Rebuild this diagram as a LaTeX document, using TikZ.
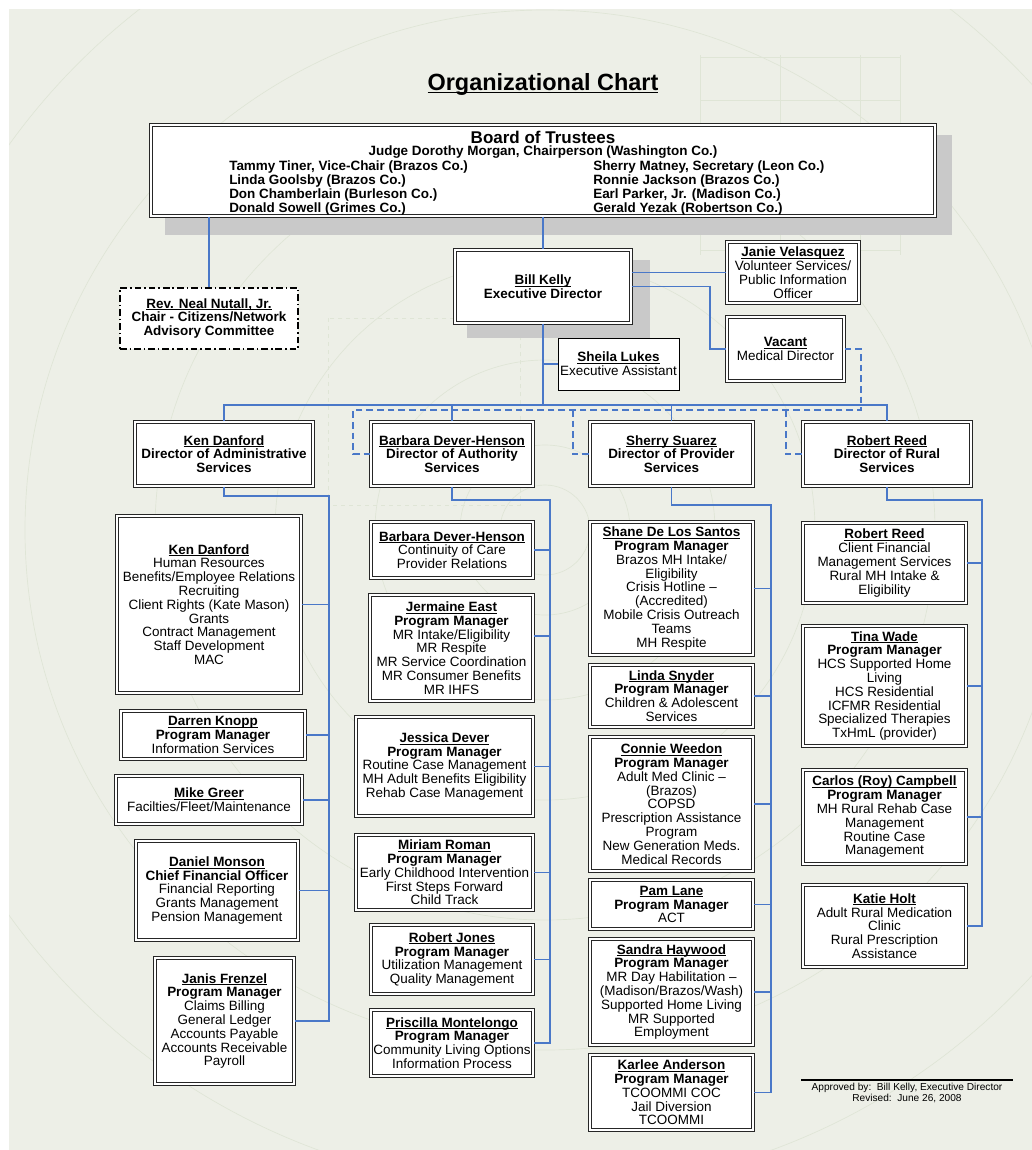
\documentclass[tikz,border=0pt]{standalone}
\usepackage{fontspec}
\setmainfont{Liberation Sans}
\usetikzlibrary{calc}
\definecolor{bg}{HTML}{EDEFE7}
\definecolor{conn}{HTML}{4A78C8}
\definecolor{shadowc}{HTML}{C9C9C9}
\definecolor{deco}{HTML}{DFE5D6}
\newcommand\bodyfont{\fontsize{10.1pt}{10.35pt}\selectfont}
\newcommand\nm[1]{\textbf{\setbox0\hbox{#1}\rlap{\rule[-1.5pt]{\wd0}{0.6pt}}\box0}}
\newcommand\pmg{\textbf{Program Manager}}
\newcommand\bx[7][dbox]{%
  \node[#1, minimum width={(#4-#2-4)*0.75pt}, minimum height={(#5-#3-4)*0.75pt}] (#6) at ({(#2+#4)/2},{(#3+#5)/2}) {#7};}
\tikzset{
  every node/.style={font=\bodyfont, inner sep=0pt, align=center},
  dbox/.style={rectangle, draw=black!85, line width=1pt, double=white, double distance=1.3pt, fill=white},
  dir/.style={dbox, font=\bodyfont\bfseries},
  sbox/.style={rectangle, draw=black, line width=0.7pt, fill=white},
  rbox/.style={rectangle, draw=black, line width=1pt, fill=white, font=\bodyfont\bfseries,
     dash pattern=on 5pt off 2.2pt on 1.2pt off 2.2pt},
  link/.style={draw=conn, line width=0.9pt},
  dlink/.style={draw=conn, line width=0.9pt, dash pattern=on 5pt off 3pt},
  deco/.style={draw=deco, line width=0.5pt},
}
\begin{document}
\begin{tikzpicture}[x=0.75pt,y=-0.75pt]
\useasboundingbox (0,0) rectangle (1032,1150);
\fill[bg] (9,9) rectangle (1032,1150);
% decorative background
\begin{scope}
\clip (9,9) rectangle (1032,1150);
\foreach \r in {45,85,170,270,390,520,660}
  \draw[deco] (545,530) circle[radius=\r];
\foreach \xx in {700,780,860,900}
  \draw[deco] (\xx,55) -- (\xx,255);
\foreach \yy in {57,100,150,200,250}
  \draw[deco] (700,\yy) -- (900,\yy);
\draw[deco, dashed] (328,318) rectangle (520,505);
\end{scope}

% title
\node (title) at (543,84) {\fontsize{17.6pt}{20pt}\selectfont\bfseries
  \setbox0\hbox{Organizational Chart}\rlap{\rule[-2.6pt]{\wd0}{1.2pt}}\box0};

% board
\fill[shadowc] (165,135) rectangle (952,235);
\bx{149}{123}{937}{218}{board}{}
\node[font=\fontsize{12.75pt}{14pt}\selectfont\bfseries] (bt) at (543,137) {Board of Trustees};
\node[font=\bodyfont\bfseries] (chair) at (543,152) {Judge Dorothy Morgan, Chairperson (Washington Co.)};
\node[font=\fontsize{10.1pt}{10.5pt}\selectfont\bfseries, anchor=west, align=left] (lcol) at (229,188)
  {Tammy Tiner, Vice-Chair (Brazos Co.)\\Linda Goolsby (Brazos Co.)\\Don Chamberlain (Burleson Co.)\\Donald Sowell (Grimes Co.)};
\node[font=\fontsize{10.1pt}{10.5pt}\selectfont\bfseries, anchor=west, align=left] (rcol) at (593,188)
  {Sherry Matney, Secretary (Leon Co.)\\Ronnie Jackson (Brazos Co.)\\Earl Parker, Jr. (Madison Co.)\\Gerald Yezak (Robertson Co.)};

% executive level
\fill[shadowc] (467,260) rectangle (650,338);
\bx[dir]{453}{248}{633}{325}{bill}{\nm{Bill Kelly}\\Executive Director}
\bx[rbox]{118}{286}{300}{351}{rev}{\nm{Rev. Neal Nutall, Jr.}\\Chair - Citizens/Network\\Advisory Committee}
\bx{725}{240}{861}{305}{janie}{\nm{Janie Velasquez}\\Volunteer Services/\\Public Information\\Officer}
\bx{725}{315}{846}{383}{vacant}{\nm{Vacant}\\Medical Director}
\bx[sbox]{556}{336}{681}{392}{sheila}{\nm{Sheila Lukes}\\Executive Assistant}

% directors
\bx[dir]{133}{420}{315}{488}{ken}{\nm{Ken Danford}\\Director of Administrative\\Services}
\bx[dir]{369}{420}{535}{488}{barb}{\nm{Barbara Dever-Henson}\\Director of Authority\\Services}
\bx[dir]{588}{420}{755}{488}{sherry}{\nm{Sherry Suarez}\\Director of Provider\\Services}
\bx[dir]{801}{420}{973}{488}{robt}{\nm{Robert Reed}\\Director of Rural\\Services}

% column 1
\bx{115}{514}{303}{695}{kd}{\nm{Ken Danford}\\Human Resources\\Benefits/Employee Relations\\Recruiting\\Client Rights (Kate Mason)\\Grants\\Contract Management\\Staff Development\\MAC}
\bx{119}{709}{307}{761}{darren}{\nm{Darren Knopp}\\\pmg\\Information Services}
\bx{114}{774}{304}{826}{mike}{\nm{Mike Greer}\\Facilties/Fleet/Maintenance}
\bx{134}{839}{300}{942}{monson}{\nm{Daniel Monson}\\\textbf{Chief Financial Officer}\\Financial Reporting\\Grants Management\\Pension Management}
\bx{153}{956}{296}{1086}{janis}{\nm{Janis Frenzel}\\\pmg\\Claims Billing\\General Ledger\\Accounts Payable\\Accounts Receivable\\Payroll}

% column 2
\bx{369}{520}{535}{580}{bdh}{\nm{Barbara Dever-Henson}\\Continuity of Care\\Provider Relations}
\bx{368}{593}{535}{703}{jer}{\nm{Jermaine East}\\\pmg\\MR Intake/Eligibility\\MR Respite\\MR Service Coordination\\MR Consumer Benefits\\MR IHFS}
\bx{354}{715}{535}{818}{jes}{\nm{Jessica Dever}\\\pmg\\Routine Case Management\\MH Adult Benefits Eligibility\\Rehab Case Management}
\bx{354}{833}{535}{912}{mir}{\nm{Miriam Roman}\\\pmg\\Early Childhood Intervention\\First Steps Forward\\Child Track}
\bx{369}{923}{535}{996}{rj}{\nm{Robert Jones}\\\pmg\\Utilization Management\\Quality Management}
\bx{369}{1008}{535}{1078}{pri}{\nm{Priscilla Montelongo}\\\pmg\\Community Living Options\\Information Process}

% column 3
\bx{588}{520}{755}{657}{shane}{\nm{Shane De Los Santos}\\\pmg\\Brazos MH Intake/\\Eligibility\\Crisis Hotline –\\(Accredited)\\Mobile Crisis Outreach\\Teams\\MH Respite}
\bx{588}{663}{755}{729}{linda}{\nm{Linda Snyder}\\\pmg\\Children \& Adolescent\\Services}
\bx{588}{735}{755}{873}{connie}{\nm{Connie Weedon}\\\pmg\\Adult Med Clinic –\\(Brazos)\\COPSD\\Prescription Assistance\\Program\\New Generation Meds.\\Medical Records}
\bx{588}{878}{755}{931}{pam}{\nm{Pam Lane}\\\pmg\\ACT}
\bx{588}{937}{755}{1047}{sandra}{\nm{Sandra Haywood}\\\pmg\\MR Day Habilitation –\\(Madison/Brazos/Wash)\\Supported Home Living\\MR Supported\\Employment}
\bx{588}{1053}{755}{1132}{karlee}{\nm{Karlee Anderson}\\\pmg\\TCOOMMI COC\\Jail Diversion\\TCOOMMI}

% column 4
\bx{801}{521}{968}{605}{rr}{\nm{Robert Reed}\\Client Financial\\Management Services\\Rural MH Intake \&\\Eligibility}
\bx{801}{624}{968}{748}{tina}{\nm{Tina Wade}\\\pmg\\HCS Supported Home\\Living\\HCS Residential\\ICFMR Residential\\Specialized Therapies\\TxHmL (provider)}
\bx{801}{768}{968}{866}{carlos}{\nm{Carlos (Roy) Campbell}\\\pmg\\MH Rural Rehab Case\\Management\\Routine Case\\Management}
\bx{801}{883}{968}{969}{katie}{\nm{Katie Holt}\\Adult Rural Medication\\Clinic\\Rural Prescription\\Assistance}

% connectors: top
\draw[link] (board.south) -- (bill.north);
\draw[link] (board.south -| rev.north) -- (rev.north);
\draw[link] (bill.east |- janie.west) -- (janie.west);
\coordinate (vturn) at (710,349);
\draw[link] (bill.east) -| (vturn) -- (vacant.west);
\draw[link] (bill.south |- sheila.west) -- (sheila.west);
\coordinate (bus) at (543,405);
\draw[link] (bill.south) -- (bus);
\draw[link] (ken.north) |- (bus) -| (robt.north);
\draw[link] (barb.north) -- (barb.north |- bus);
\draw[link] (sherry.north) -- (sherry.north |- bus);

% dashed links from medical director
\coordinate (dv) at (861,410);
\coordinate (d1) at (353,410);
\coordinate (d2) at (573,410);
\coordinate (d3) at (786,410);
\draw[dlink] (vacant.east) -| (dv) -- (d1) |- (barb.west);
\draw[dlink] (d2) |- (sherry.west);
\draw[dlink] (d3) |- (robt.west);

% column spines
\coordinate (c1) at (329,496);
\coordinate (c2) at (550,500);
\coordinate (c3) at (771,505);
\coordinate (c4) at (982,500);
\draw[link] (ken.south) |- (c1) |- (janis.east);
\draw[link] (barb.south) |- (c2) |- (pri.east);
\draw[link] (sherry.south) |- (c3) |- (karlee.east);
\draw[link] (robt.south) |- (c4) |- (katie.east);
\foreach \n in {kd,darren,mike,monson} \draw[link] (\n.east) -- (\n.east -| c1);
\foreach \n in {bdh,jes,mir,rj} \draw[link] (\n.east) -- (\n.east -| c2);
\draw[link] ($(jer.east)+(0,-12)$) -- ($(jer.east -| c2)+(0,-12)$);
\foreach \n in {shane,linda,connie,pam,sandra} \draw[link] (\n.east) -- (\n.east -| c3);
\foreach \n in {rr,tina,carlos} \draw[link] (\n.east) -- (\n.east -| c4);

% footer
\draw[line width=0.8pt] (801,1080) -- (1013,1080);
\node[font=\fontsize{7.6pt}{7.6pt}\selectfont] (foot) at (907,1093) {Approved by:\ \ Bill Kelly, Executive Director\\Revised:\ \ June 26, 2008};
\end{tikzpicture}
\end{document}
